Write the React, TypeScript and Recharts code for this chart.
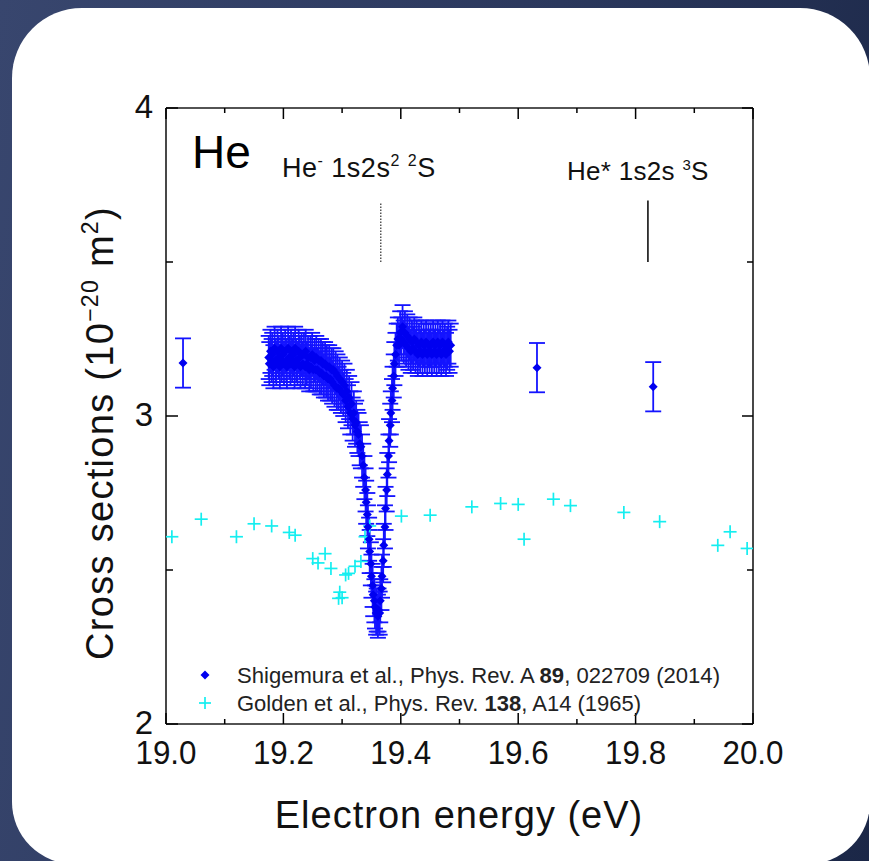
import { ComposedChart, ErrorBar, ReferenceLine, Scatter, XAxis, YAxis } from "recharts";

// Shigemura et al. (2014) — isolated points with their own error bars
const shigeSingleEnergy = [19.029, 19.632, 19.83];
const shigeSingleSigma = [3.172, 3.157, 3.095];
const shigeSingleError = [0.08, 0.08, 0.08];

// Shigemura et al. (2014) — dense scan across the He- 1s2s2 2S resonance
const SCAN_ERR = 0.07;
const shigeScanEnergy = [
  19.175, 19.176, 19.178, 19.18, 19.181, 19.183, 19.185, 19.187, 19.188, 19.19,
  19.192, 19.194, 19.196, 19.197, 19.199, 19.201, 19.203, 19.205, 19.206, 19.208,
  19.21, 19.212, 19.213, 19.215, 19.217, 19.219, 19.22, 19.222, 19.224, 19.226,
  19.228, 19.229, 19.231, 19.233, 19.235, 19.237, 19.238, 19.24, 19.242, 19.244,
  19.246, 19.247, 19.249, 19.251, 19.253, 19.255, 19.256, 19.258, 19.26, 19.262,
  19.264, 19.265, 19.267, 19.269, 19.271, 19.273, 19.274, 19.276, 19.278, 19.28,
  19.282, 19.283, 19.285, 19.287, 19.289, 19.291, 19.292, 19.294, 19.296, 19.298,
  19.3, 19.302, 19.304, 19.306, 19.308, 19.31, 19.312, 19.314, 19.316, 19.318,
  19.32, 19.322, 19.324, 19.326, 19.328, 19.33, 19.332, 19.334, 19.336, 19.338,
  19.34, 19.341, 19.343, 19.344, 19.346, 19.347, 19.349, 19.35, 19.352, 19.353,
  19.355, 19.356, 19.358, 19.359, 19.361, 19.362, 19.364, 19.365, 19.367, 19.368,
  19.37, 19.371, 19.373, 19.374, 19.376, 19.377, 19.379, 19.38, 19.382, 19.383,
  19.385, 19.386, 19.388, 19.389, 19.391, 19.393, 19.395, 19.397, 19.399, 19.401,
  19.403, 19.405, 19.407, 19.409, 19.411, 19.413, 19.415, 19.417, 19.419, 19.421,
  19.423, 19.425, 19.427, 19.429, 19.431, 19.433, 19.435, 19.437, 19.439, 19.441,
  19.443, 19.445, 19.447, 19.449, 19.451, 19.453, 19.455, 19.457, 19.459, 19.461,
  19.463, 19.465, 19.467, 19.469, 19.471, 19.473, 19.475, 19.477, 19.479, 19.481,
  19.483, 19.485,
];
const shigeScanSigma = [
  3.19, 3.17, 3.21, 3.18, 3.2, 3.16, 3.22, 3.18, 3.17, 3.21,
  3.19, 3.16, 3.22, 3.18, 3.2, 3.17, 3.21, 3.18, 3.16, 3.22,
  3.19, 3.17, 3.21, 3.18, 3.2, 3.16, 3.22, 3.18, 3.17, 3.21,
  3.19, 3.16, 3.2, 3.17, 3.2, 3.16, 3.21, 3.17, 3.19, 3.15,
  3.19, 3.16, 3.2, 3.15, 3.18, 3.15, 3.19, 3.15, 3.18, 3.14,
  3.18, 3.14, 3.17, 3.13, 3.17, 3.13, 3.16, 3.12, 3.16, 3.12,
  3.15, 3.11, 3.15, 3.1, 3.14, 3.09, 3.13, 3.09, 3.12, 3.08,
  3.11, 3.07, 3.1, 3.05, 3.08, 3.03, 3.06, 3.01, 3.04, 2.99,
  3.01, 2.97, 2.98, 2.95, 2.94, 2.91, 2.9, 2.87, 2.84, 2.8,
  2.76, 2.72, 2.68, 2.64, 2.6, 2.56, 2.52, 2.48, 2.45, 2.42,
  2.4, 2.38, 2.36, 2.37, 2.35, 2.37, 2.36, 2.4, 2.44, 2.48,
  2.53, 2.58, 2.64, 2.7, 2.76, 2.81, 2.87, 2.92, 2.97, 3.01,
  3.05, 3.09, 3.13, 3.17, 3.2, 3.23, 3.25, 3.23, 3.27, 3.25,
  3.29, 3.24, 3.27, 3.23, 3.26, 3.22, 3.25, 3.21, 3.24, 3.22,
  3.25, 3.21, 3.24, 3.2, 3.23, 3.21, 3.24, 3.2, 3.23, 3.21,
  3.24, 3.2, 3.23, 3.21, 3.23, 3.2, 3.24, 3.21, 3.23, 3.2,
  3.24, 3.21, 3.23, 3.2, 3.24, 3.21, 3.23, 3.2, 3.22, 3.24,
  3.21, 3.23,
];

// Golden et al. (1965)
const goldenEnergy = [
  19.01, 19.06, 19.12, 19.15, 19.18, 19.21, 19.22, 19.25, 19.259, 19.271,
  19.281, 19.296, 19.294, 19.3, 19.306, 19.311, 19.322, 19.332, 19.339, 19.347,
  19.401, 19.45, 19.521, 19.57, 19.6, 19.61, 19.66, 19.689, 19.78, 19.841,
  19.94, 19.961, 19.99,
];
const goldenSigma = [
  2.608, 2.665, 2.608, 2.65, 2.643, 2.622, 2.613, 2.537, 2.523, 2.553,
  2.505, 2.428, 2.408, 2.41, 2.484, 2.489, 2.512, 2.528, 2.608, 2.643,
  2.675, 2.678, 2.705, 2.716, 2.713, 2.6, 2.73, 2.709, 2.687, 2.657,
  2.58, 2.624, 2.57,
];

// axis ticks
const xTicks = [19.0, 19.1, 19.2, 19.3, 19.4, 19.5, 19.6, 19.7, 19.8, 19.9, 20.0];
const yTicks = [2, 2.5, 3, 3.5, 4];

// resonance markers
const anionEnergy = 19.366;
const metastableEnergy = 19.821;
const markerBottom = 3.5;
const anionTop = 3.69;
const metastableTop = 3.7;

const shigeData = [
  ...shigeSingleEnergy.map((e, i) => ({ e, s: shigeSingleSigma[i], err: shigeSingleError[i] })),
  ...shigeScanEnergy.map((e, i) => ({ e, s: shigeScanSigma[i], err: SCAN_ERR })),
];
const goldenData = goldenEnergy.map((e, i) => ({ e, s: goldenSigma[i] }));

const FONT = '"Liberation Sans", Arial, sans-serif';
const BLUE = "#0000f0";
const CYAN = "#14eef0";

const isMajorX = (v: number) => Math.round(v * 10) % 2 === 0;
const isMajorY = (v: number) => Number.isInteger(v);

// axes are 1px thick bands; ticks drawn inward from the axis line
function BottomTick({ x, y, payload }: any) {
  const v = payload.value as number;
  const major = isMajorX(v);
  return (
    <g>
      <line x1={x} y1={y} x2={x} y2={y - (major ? 11 : 5)} stroke="#000" strokeWidth={1.5} />
      {major && (
        <text x={x} y={y + 40} textAnchor="middle" fontSize={34} fontFamily={FONT} fill="#111"
          textLength={61} lengthAdjust="spacingAndGlyphs">
          {v.toFixed(1)}
        </text>
      )}
    </g>
  );
}

function TopTick({ x, y, payload }: any) {
  const major = isMajorX(payload.value);
  return <line x1={x} y1={y} x2={x} y2={y + (major ? 11 : 5)} stroke="#000" strokeWidth={1.5} />;
}

function LeftTick({ x, y, payload }: any) {
  const v = payload.value as number;
  const major = isMajorY(v);
  return (
    <g>
      <line x1={x} y1={y} x2={x + (major ? 12 : 7)} y2={y} stroke="#000" strokeWidth={1.5} />
      {major && (
        <text x={x - 13} y={y + 10} textAnchor="end" fontSize={33} fontFamily={FONT} fill="#111">
          {v}
        </text>
      )}
    </g>
  );
}

function RightTick({ x, y, payload }: any) {
  const major = isMajorY(payload.value);
  return <line x1={x} y1={y} x2={x - (major ? 11 : 6)} y2={y} stroke="#000" strokeWidth={1.5} />;
}

function Diamond({ cx, cy }: any) {
  if (cx == null || cy == null) return null;
  const r = 4.5;
  return <polygon points={`${cx},${cy - r} ${cx + r},${cy} ${cx},${cy + r} ${cx - r},${cy}`} fill={BLUE} />;
}

function Plus({ cx, cy }: any) {
  if (cx == null || cy == null) return null;
  const r = 6.5;
  return (
    <g stroke={CYAN} strokeWidth={1.7}>
      <line x1={cx - r} y1={cy} x2={cx + r} y2={cy} />
      <line x1={cx} y1={cy - r} x2={cx} y2={cy + r} />
    </g>
  );
}

const axisLine = { stroke: "#1a1a1a", strokeWidth: 1.6 };

export default function App() {
  return (
    <div
      style={{
        position: "fixed",
        left: 0,
        top: 0,
        width: 869,
        height: 861,
        overflow: "hidden",
        background: "linear-gradient(100deg, #38466e 0%, #2b385d 55%, #1b2747 100%)",
      }}
    >
      <div
        style={{
          position: "absolute",
          left: 12,
          top: 8,
          width: 858,
          height: 856,
          background: "#fff",
          borderRadius: "70px 70px 62px 62px",
        }}
      />
      <div style={{ position: "absolute", left: 0, top: 0 }}>
        <ComposedChart width={869} height={861} margin={{ top: 107, right: 115, bottom: 136, left: 165 }}>
          <XAxis xAxisId="b" dataKey="e" type="number" domain={[19, 20]} allowDataOverflow ticks={xTicks} interval={0}
            height={1} tickSize={0} tickMargin={0} tickLine={false} axisLine={axisLine}
            tick={(p: any) => <BottomTick {...p} />} />
          <XAxis xAxisId="top" orientation="top" dataKey="e" type="number" domain={[19, 20]} allowDataOverflow
            ticks={xTicks} interval={0} height={1} tickSize={0} tickMargin={0} tickLine={false} axisLine={axisLine}
            tick={(p: any) => <TopTick {...p} />} />
          <YAxis yAxisId="l" dataKey="s" type="number" domain={[2, 4]} allowDataOverflow ticks={yTicks} interval={0}
            width={1} tickSize={0} tickMargin={0} tickLine={false} axisLine={axisLine}
            tick={(p: any) => <LeftTick {...p} />} />
          <YAxis yAxisId="right" orientation="right" dataKey="s" type="number" domain={[2, 4]} allowDataOverflow
            ticks={yTicks} interval={0} width={1} tickSize={0} tickMargin={0} tickLine={false} axisLine={axisLine}
            tick={(p: any) => <RightTick {...p} />} />

          <ReferenceLine xAxisId="b" yAxisId="l"
            segment={[{ x: anionEnergy, y: markerBottom }, { x: anionEnergy, y: anionTop }]}
            stroke="#000" strokeWidth={1} strokeDasharray="1.5 1.5" />
          <ReferenceLine xAxisId="b" yAxisId="l"
            segment={[{ x: metastableEnergy, y: markerBottom }, { x: metastableEnergy, y: metastableTop }]}
            stroke="#000" strokeWidth={1.5} />

          <Scatter xAxisId="b" yAxisId="l" data={goldenData} shape={(p: any) => <Plus {...p} />}
            isAnimationActive={false} />
          <Scatter xAxisId="b" yAxisId="l" data={shigeData} shape={(p: any) => <Diamond {...p} />}
            isAnimationActive={false}>
            <ErrorBar dataKey="err" direction="y" width={8} stroke="#1414ff" strokeWidth={1.8} />
          </Scatter>
        </ComposedChart>
      </div>

      <svg width={869} height={861} style={{ position: "absolute", left: 0, top: 0, pointerEvents: "none" }}
        fontFamily={FONT}>
        <text x={192} y={168} fontSize={46} fill="#000">He</text>

        <text x={282} y={177} fontSize={27} fill="#111" letterSpacing={0.5}>
          He<tspan dy={-11} fontSize={16}>-</tspan>
          <tspan dy={11}> 1s2s</tspan>
          <tspan dy={-11} fontSize={16}>2</tspan>
          <tspan dy={11}> </tspan>
          <tspan dy={-11} fontSize={16}>2</tspan>
          <tspan dy={11}>S</tspan>
        </text>
        <text x={567} y={180} fontSize={26} fill="#111" letterSpacing={0.3}>
          He* 1s2s <tspan dy={-10} fontSize={15}>3</tspan>
          <tspan dy={10}>S</tspan>
        </text>

        <polygon points="205,670.5 209.5,675 205,679.5 200.5,675" fill={BLUE} />
        <text x={237} y={683} fontSize={22} fill="#222" textLength={483} lengthAdjust="spacingAndGlyphs">
          Shigemura et al., Phys. Rev. A <tspan fontWeight="bold">89</tspan>, 022709 (2014)
        </text>
        <g stroke={CYAN} strokeWidth={1.7}>
          <line x1={199} y1={703} x2={211} y2={703} />
          <line x1={205} y1={697} x2={205} y2={709} />
        </g>
        <text x={237} y={711} fontSize={22} fill="#222" textLength={404} lengthAdjust="spacingAndGlyphs">
          Golden et al., Phys. Rev. <tspan fontWeight="bold">138</tspan>, A14 (1965)
        </text>

        <text x={459} y={828} textAnchor="middle" fontSize={38} fill="#111" letterSpacing={1}>
          Electron energy (eV)
        </text>
        <text x={113} y={433} transform="rotate(-90 113 433)" textAnchor="middle" fontSize={38} fill="#111"
          letterSpacing={1.3}>
          Cross sections (10<tspan dy={-15} fontSize={23}>−20</tspan>
          <tspan dy={15}> m</tspan>
          <tspan dy={-15} fontSize={23}>2</tspan>
          <tspan dy={15}>)</tspan>
        </text>
      </svg>
    </div>
  );
}
